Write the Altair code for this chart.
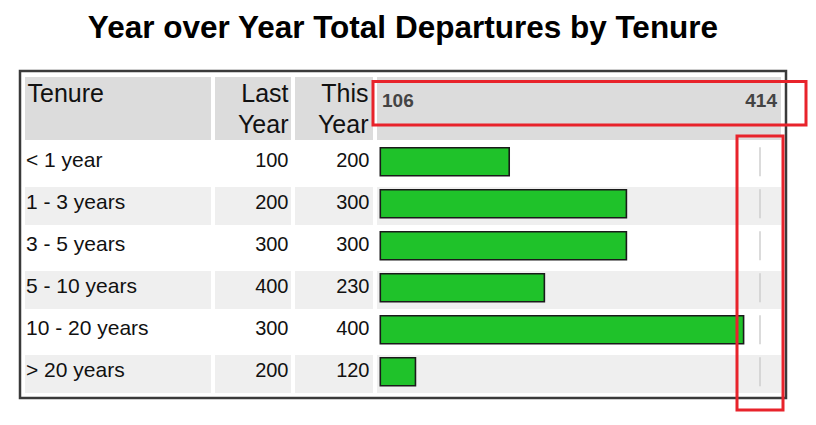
import altair as alt
import pandas as pd

# ---- data ----
tenure = ["< 1 year", "1 - 3 years", "3 - 5 years", "5 - 10 years", "10 - 20 years", "> 20 years"]
last_year = [100, 200, 300, 400, 300, 200]
this_year = [200, 300, 300, 230, 400, 120]
range_labels = ["106", "414"]
marker_value = 414
headers = ["Tenure", "Last\nYear", "This\nYear"]
title_text = "Year over Year Total Departures by Tenure"

df = pd.DataFrame({
    "tenure": tenure,
    "last": last_year,
    "this": this_year,
    "idx": list(range(len(tenure))),
    "marker": [marker_value] * len(tenure),
})
one = pd.DataFrame({"h0": [headers[0]], "h1": [headers[1]], "h2": [headers[2]],
                    "lo": [range_labels[0]], "hi": [range_labels[1]]})

FONT = "Liberation Sans"
ycol = alt.Y("tenure:N", sort=tenure, axis=None,
             scale=alt.Scale(range=[72, 324], paddingInner=4 / 42, paddingOuter=2 / 42))
xscale = alt.Scale(domain=[90, 414], range=[360.3, 740], zero=False, nice=False)

base = alt.Chart(df)

# column cell extents (relative to the plot area)
cols = [(5, 191), (195, 271), (275, 353), (357, 761)]

layers = []
# header cells
for x0, x1 in cols:
    layers.append(alt.Chart(one).mark_rect(color="#dcdcdc").encode(
        x=alt.value(x0), x2=alt.value(x1), y=alt.value(6), y2=alt.value(69)))
# alternate row shading
for x0, x1 in cols:
    layers.append(base.transform_filter("datum.idx % 2 == 1").mark_rect(color="#efefef").encode(
        x=alt.value(x0), x2=alt.value(x1), y=ycol))

# header text
layers.append(alt.Chart(one).mark_text(font=FONT, fontSize=25, align="left", baseline="alphabetic",
                                       color="#111").encode(
    x=alt.value(7.5), y=alt.value(31.3), text="h0:N"))
layers.append(alt.Chart(one).mark_text(font=FONT, fontSize=25, align="right", baseline="alphabetic",
                                       lineBreak="\n", lineHeight=30.4, color="#111").encode(
    x=alt.value(268.5), y=alt.value(31.3), text="h1:N"))
layers.append(alt.Chart(one).mark_text(font=FONT, fontSize=25, align="right", baseline="alphabetic",
                                       lineBreak="\n", lineHeight=30.4, color="#111").encode(
    x=alt.value(348.5), y=alt.value(31.3), text="h2:N"))
layers.append(alt.Chart(one).mark_text(font=FONT, fontSize=19, fontWeight="bold", align="left",
                                       baseline="alphabetic", color="#444").encode(
    x=alt.value(362), y=alt.value(36.3), text="lo:N"))
layers.append(alt.Chart(one).mark_text(font=FONT, fontSize=19, fontWeight="bold", align="right",
                                       baseline="alphabetic", color="#444").encode(
    x=alt.value(757), y=alt.value(36.3), text="hi:N"))

# body text
layers.append(base.mark_text(font=FONT, fontSize=21, align="left", baseline="alphabetic", dy=3,
                             color="#111").encode(x=alt.value(6), y=ycol, text="tenure:N"))
layers.append(base.mark_text(font=FONT, fontSize=20, align="right", baseline="alphabetic", dy=3,
                             color="#111").encode(x=alt.value(268.5), y=ycol, text="last:Q"))
layers.append(base.mark_text(font=FONT, fontSize=20, align="right", baseline="alphabetic", dy=3,
                             color="#111").encode(x=alt.value(349.5), y=ycol, text="this:Q"))

# bars
layers.append(base.mark_bar(color="#1fc22a", stroke="#1a1a1a", strokeWidth=1.6, height=28,
                            yOffset=-2.2).encode(
    x=alt.X("this:Q", scale=xscale, axis=None), x2=alt.datum(90), y=ycol))
# marker ticks
layers.append(base.mark_tick(orient="vertical", color="#cccccc", thickness=2, size=29,
                             yOffset=-2.3).encode(
    x=alt.X("marker:Q", scale=xscale, axis=None), y=ycol))

# red annotation boxes
layers.append(alt.Chart(one).mark_rect(fill=None, stroke="#e8232b", strokeWidth=3).encode(
    x=alt.value(353), x2=alt.value(786), y=alt.value(10.5), y2=alt.value(54)))
layers.append(alt.Chart(one).mark_rect(fill=None, stroke="#e8232b", strokeWidth=3).encode(
    x=alt.value(717), x2=alt.value(763), y=alt.value(65), y2=alt.value(339)))

chart = alt.layer(*layers).properties(
    width=766, height=327,
    title=alt.TitleParams(title_text, font=FONT, fontSize=31.5, fontWeight="bold", color="#000",
                          anchor="middle", frame="group", baseline="alphabetic", offset=2),
    autosize=alt.AutoSizeParams(type="none"),
    padding={"left": 12, "top": 63, "right": 22, "bottom": 14},
).configure(background="white").configure_view(stroke="#3a3a3a", strokeWidth=2.5)

chart.save("out.html", embed_options={"renderer": "svg", "actions": False})
